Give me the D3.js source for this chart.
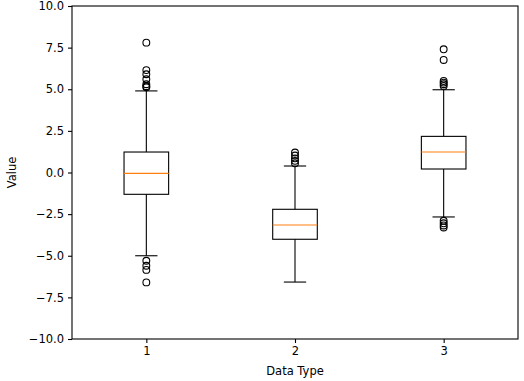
<!DOCTYPE html>
<html><head><meta charset="utf-8">
<script src="https://cdn.jsdelivr.net/npm/d3@7"></script>
<style>body{margin:0;background:#fff}text{font-family:"DejaVu Sans",sans-serif;fill:#000}</style>
</head><body><svg id="c" width="524" height="381"></svg>
<script>
const categories = [1, 2, 3];
const q1 = [-1.31, -4.01, 0.21];
const medians = [-0.05, -3.15, 1.23];
const q3 = [1.23, -2.21, 2.17];
const whiskerLow = [-5.0, -6.58, -2.67];
const whiskerHigh = [4.9, 0.39, 4.97];
const outliers = [
  [7.8, 6.15, 5.9, 5.6, 5.3, 5.18, 5.12, -5.3, -5.6, -5.85, -6.6],
  [1.2, 1.02, 0.85, 0.7, 0.55],
  [7.4, 6.76, 5.5, 5.4, 5.3, 5.2, -2.9, -3.05, -3.18, -3.3]
];
const yTicks = [-10, -7.5, -5, -2.5, 0, 2.5, 5, 7.5, 10];

const svg = d3.select("#c");
const L = 72, R = 518, T = 6, B = 339;
const x = d3.scaleLinear().domain([0.5, 3.5]).range([L, R]);
const y = d3.scaleLinear().domain([-10, 10]).range([B, T]);
const fs = "11.5px";
const bw = x(1.3) - x(1);

const g = svg.append("g");
categories.forEach((c, i) => {
  const cx = x(c);
  g.append("line").attr("x1", cx).attr("x2", cx).attr("y1", y(q3[i])).attr("y2", y(whiskerHigh[i])).attr("stroke", "#000").attr("stroke-width", 1.1);
  g.append("line").attr("x1", cx).attr("x2", cx).attr("y1", y(q1[i])).attr("y2", y(whiskerLow[i])).attr("stroke", "#000").attr("stroke-width", 1.1);
  [whiskerHigh[i], whiskerLow[i]].forEach(v => {
    g.append("line").attr("x1", cx - bw / 4).attr("x2", cx + bw / 4).attr("y1", y(v)).attr("y2", y(v)).attr("stroke", "#000").attr("stroke-width", 1.1);
  });
  g.append("rect").attr("x", cx - bw / 2).attr("width", bw).attr("y", y(q3[i])).attr("height", y(q1[i]) - y(q3[i]))
    .attr("fill", "none").attr("stroke", "#000").attr("stroke-width", 1.1);
  g.append("line").attr("x1", cx - bw / 2).attr("x2", cx + bw / 2).attr("y1", y(medians[i])).attr("y2", y(medians[i])).attr("stroke", "#ff7f0e").attr("stroke-width", 1.1);
  outliers[i].forEach(v => {
    g.append("circle").attr("cx", cx).attr("cy", y(v)).attr("r", 3.4).attr("fill", "none").attr("stroke", "#000").attr("stroke-width", 1.1);
  });
});

// frame
svg.append("rect").attr("x", L).attr("y", T).attr("width", R - L).attr("height", B - T).attr("fill", "none").attr("stroke", "#000").attr("stroke-width", 1.1);

const xa = svg.append("g").attr("transform", `translate(0,${B})`)
  .call(d3.axisBottom(x).tickValues(categories).tickFormat(d3.format("d")).tickSize(4).tickPadding(4));
const ya = svg.append("g").attr("transform", `translate(${L},0)`)
  .call(d3.axisLeft(y).tickValues(yTicks).tickFormat(d => d3.format(".1f")(d).replace("-", "\u2212")).tickSize(4).tickPadding(4));
[xa, ya].forEach(a => {
  a.select(".domain").remove();
  a.selectAll("text").style("font-size", fs).style("font-family", "DejaVu Sans");
  a.selectAll("line").attr("stroke", "#000").attr("stroke-width", 1.1);
});

svg.append("text").attr("x", (L + R) / 2).attr("y", 375).attr("text-anchor", "middle").style("font-size", fs).text("Data Type");
svg.append("text").attr("transform", `translate(16,${(T + B) / 2}) rotate(-90)`).attr("text-anchor", "middle").style("font-size", fs).text("Value");
</script></body></html>
